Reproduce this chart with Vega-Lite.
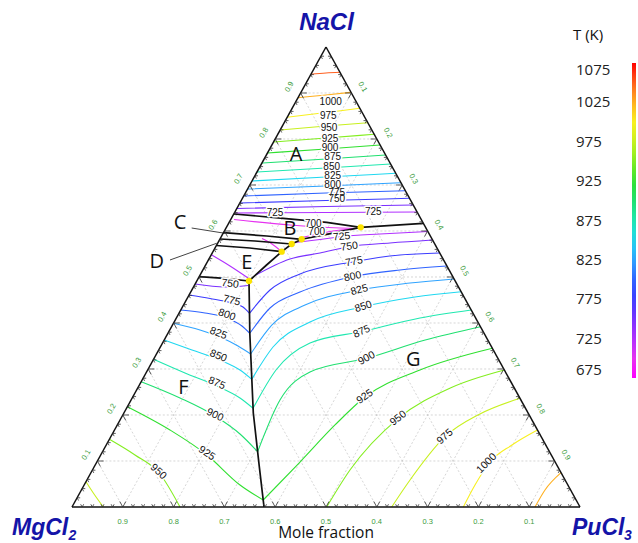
{
"$schema":"https://vega.github.io/schema/vega-lite/v6.json",
"width":638,"height":543,"autosize":"none","padding":0,"background":"white",
"config":{"view":{"stroke":null}},
"datasets":{
"tri":[{"id":"b","o":0,"x":0,"y":0},{"id":"b","o":1,"x":100,"y":0},{"id":"l","o":0,"x":0,"y":0},{"id":"l","o":1,"x":50,"y":100},{"id":"r","o":0,"x":50,"y":100},{"id":"r","o":1,"x":100,"y":0}],
"grid":[
{"id":"h10","o":0,"x":5,"y":10},{"id":"h10","o":1,"x":95,"y":10},
{"id":"h20","o":0,"x":10,"y":20},{"id":"h20","o":1,"x":90,"y":20},
{"id":"h30","o":0,"x":15,"y":30},{"id":"h30","o":1,"x":85,"y":30},
{"id":"h40","o":0,"x":20,"y":40},{"id":"h40","o":1,"x":80,"y":40},
{"id":"h50","o":0,"x":25,"y":50},{"id":"h50","o":1,"x":75,"y":50},
{"id":"h60","o":0,"x":30,"y":60},{"id":"h60","o":1,"x":70,"y":60},
{"id":"h70","o":0,"x":35,"y":70},{"id":"h70","o":1,"x":65,"y":70},
{"id":"h80","o":0,"x":40,"y":80},{"id":"h80","o":1,"x":60,"y":80},
{"id":"h90","o":0,"x":45,"y":90},{"id":"h90","o":1,"x":55,"y":90},
{"id":"p10","o":0,"x":10,"y":0},{"id":"p10","o":1,"x":5,"y":10},
{"id":"p20","o":0,"x":20,"y":0},{"id":"p20","o":1,"x":10,"y":20},
{"id":"p30","o":0,"x":30,"y":0},{"id":"p30","o":1,"x":15,"y":30},
{"id":"p40","o":0,"x":40,"y":0},{"id":"p40","o":1,"x":20,"y":40},
{"id":"p50","o":0,"x":50,"y":0},{"id":"p50","o":1,"x":25,"y":50},
{"id":"p60","o":0,"x":60,"y":0},{"id":"p60","o":1,"x":30,"y":60},
{"id":"p70","o":0,"x":70,"y":0},{"id":"p70","o":1,"x":35,"y":70},
{"id":"p80","o":0,"x":80,"y":0},{"id":"p80","o":1,"x":40,"y":80},
{"id":"p90","o":0,"x":90,"y":0},{"id":"p90","o":1,"x":45,"y":90},
{"id":"q10","o":0,"x":10,"y":0},{"id":"q10","o":1,"x":55,"y":90},
{"id":"q20","o":0,"x":20,"y":0},{"id":"q20","o":1,"x":60,"y":80},
{"id":"q30","o":0,"x":30,"y":0},{"id":"q30","o":1,"x":65,"y":70},
{"id":"q40","o":0,"x":40,"y":0},{"id":"q40","o":1,"x":70,"y":60},
{"id":"q50","o":0,"x":50,"y":0},{"id":"q50","o":1,"x":75,"y":50},
{"id":"q60","o":0,"x":60,"y":0},{"id":"q60","o":1,"x":80,"y":40},
{"id":"q70","o":0,"x":70,"y":0},{"id":"q70","o":1,"x":85,"y":30},
{"id":"q80","o":0,"x":80,"y":0},{"id":"q80","o":1,"x":90,"y":20},
{"id":"q90","o":0,"x":90,"y":0},{"id":"q90","o":1,"x":95,"y":10}],
"cont":[
{"id":"a1050","T":1050,"o":0,"x":47.03,"y":94.07},{"id":"a1050","T":1050,"o":1,"x":50,"y":94.35},{"id":"a1050","T":1050,"o":2,"x":52.75,"y":94.5},
{"id":"a1025","T":1025,"o":0,"x":44.49,"y":88.98},{"id":"a1025","T":1025,"o":1,"x":50,"y":89.57},{"id":"a1025","T":1025,"o":2,"x":54.93,"y":90.15},
{"id":"a1000","T":1000,"o":0,"x":42.36,"y":84.72},{"id":"a1000","T":1000,"o":1,"x":50,"y":85.76},{"id":"a1000","T":1000,"o":2,"x":56.67,"y":86.67},
{"id":"a975","T":975,"o":0,"x":40.98,"y":81.96},{"id":"a975","T":975,"o":1,"x":50,"y":82.83},{"id":"a975","T":975,"o":2,"x":58.23,"y":83.54},
{"id":"a950","T":950,"o":0,"x":39.67,"y":79.35},{"id":"a950","T":950,"o":1,"x":50,"y":80.22},{"id":"a950","T":950,"o":2,"x":59.49,"y":81.02},
{"id":"a925","T":925,"o":0,"x":38.48,"y":76.96},{"id":"a925","T":925,"o":1,"x":50,"y":77.83},{"id":"a925","T":925,"o":2,"x":60.65,"y":78.7},
{"id":"a900","T":900,"o":0,"x":37.39,"y":74.78},{"id":"a900","T":900,"o":1,"x":50,"y":75.65},{"id":"a900","T":900,"o":2,"x":61.74,"y":76.52},
{"id":"a875","T":875,"o":0,"x":36.41,"y":72.83},{"id":"a875","T":875,"o":1,"x":50,"y":73.7},{"id":"a875","T":875,"o":2,"x":62.72,"y":74.57},
{"id":"a850","T":850,"o":0,"x":35.43,"y":70.87},{"id":"a850","T":850,"o":1,"x":50,"y":71.74},{"id":"a850","T":850,"o":2,"x":63.73,"y":72.54},
{"id":"a825","T":825,"o":0,"x":34.57,"y":69.13},{"id":"a825","T":825,"o":1,"x":50,"y":69.78},{"id":"a825","T":825,"o":2,"x":64.75,"y":70.5},
{"id":"a800","T":800,"o":0,"x":33.8,"y":67.61},{"id":"a800","T":800,"o":1,"x":50,"y":68.26},{"id":"a800","T":800,"o":2,"x":65.62,"y":68.76},
{"id":"a775","T":775,"o":0,"x":33.04,"y":66.09},{"id":"a775","T":775,"o":1,"x":50,"y":66.63},{"id":"a775","T":775,"o":2,"x":66.45,"y":67.11},
{"id":"a750","T":750,"o":0,"x":32.45,"y":64.89},{"id":"a750","T":750,"o":1,"x":50,"y":65.33},{"id":"a750","T":750,"o":2,"x":67.17,"y":65.65},
{"id":"a725","T":725,"o":0,"x":31.96,"y":63.91},{"id":"a725","T":725,"o":1,"x":50,"y":64.02},{"id":"a725","T":725,"o":2,"x":67.93,"y":64.13},
{"id":"f750","T":750,"o":0,"x":24.24,"y":48.48},{"id":"f750","T":750,"o":1,"x":30.12,"y":47.83},{"id":"f750","T":750,"o":2,"x":34.65,"y":48.15},
{"id":"f775","T":775,"o":0,"x":23.04,"y":46.09},{"id":"f775","T":775,"o":1,"x":27.17,"y":45.33},{"id":"f775","T":775,"o":2,"x":31.5,"y":44.35},{"id":"f775","T":775,"o":3,"x":33.66,"y":43.48},{"id":"f775","T":775,"o":4,"x":34.94,"y":42.11},
{"id":"f800","T":800,"o":0,"x":21.41,"y":42.83},{"id":"f800","T":800,"o":1,"x":26.18,"y":42.17},{"id":"f800","T":800,"o":2,"x":30.51,"y":41.09},{"id":"f800","T":800,"o":3,"x":33.46,"y":39.35},{"id":"f800","T":800,"o":4,"x":35.0,"y":37.76},
{"id":"f825","T":825,"o":0,"x":19.97,"y":39.93},{"id":"f825","T":825,"o":1,"x":25.2,"y":38.48},{"id":"f825","T":825,"o":2,"x":29.13,"y":36.96},{"id":"f825","T":825,"o":3,"x":32.68,"y":35.0},{"id":"f825","T":825,"o":4,"x":35.18,"y":33.26},
{"id":"f850","T":850,"o":0,"x":18.15,"y":36.3},{"id":"f850","T":850,"o":1,"x":23.62,"y":34.13},{"id":"f850","T":850,"o":2,"x":29.13,"y":31.96},{"id":"f850","T":850,"o":3,"x":33.07,"y":29.78},{"id":"f850","T":850,"o":4,"x":35.4,"y":27.76},
{"id":"f875","T":875,"o":0,"x":16.05,"y":32.11},{"id":"f875","T":875,"o":1,"x":22.24,"y":29.13},{"id":"f875","T":875,"o":2,"x":28.54,"y":26.3},{"id":"f875","T":875,"o":3,"x":33.07,"y":23.7},{"id":"f875","T":875,"o":4,"x":35.65,"y":21.46},
{"id":"f900","T":900,"o":0,"x":13.62,"y":27.24},{"id":"f900","T":900,"o":1,"x":21.26,"y":23.7},{"id":"f900","T":900,"o":2,"x":28.15,"y":19.78},{"id":"f900","T":900,"o":3,"x":33.07,"y":15.87},{"id":"f900","T":900,"o":4,"x":36.54,"y":12.02},
{"id":"f925","T":925,"o":0,"x":10.9,"y":21.8},{"id":"f925","T":925,"o":1,"x":19.29,"y":16.74},{"id":"f925","T":925,"o":2,"x":26.57,"y":11.3},{"id":"f925","T":925,"o":3,"x":33.07,"y":4.78},{"id":"f925","T":925,"o":4,"x":37.64,"y":1.52},
{"id":"f950","T":950,"o":0,"x":7.36,"y":14.72},{"id":"f950","T":950,"o":1,"x":12.4,"y":11.3},{"id":"f950","T":950,"o":2,"x":17.32,"y":7.17},{"id":"f950","T":950,"o":3,"x":21.26,"y":0},
{"id":"f975","T":975,"o":0,"x":2.75,"y":5.5},{"id":"f975","T":975,"o":1,"x":4.33,"y":2.83},{"id":"f975","T":975,"o":2,"x":6.16,"y":0},
{"id":"g725","T":725,"o":0,"x":43.9,"y":57.5},{"id":"g725","T":725,"o":1,"x":48.82,"y":58.15},{"id":"g725","T":725,"o":2,"x":53.15,"y":58.8},{"id":"g725","T":725,"o":3,"x":60.63,"y":59.35},{"id":"g725","T":725,"o":4,"x":70.05,"y":59.89},
{"id":"g750","T":750,"o":0,"x":36.0,"y":50.3},{"id":"g750","T":750,"o":1,"x":42.91,"y":53.91},{"id":"g750","T":750,"o":2,"x":48.82,"y":55.22},{"id":"g750","T":750,"o":3,"x":54.59,"y":56.59},{"id":"g750","T":750,"o":4,"x":62.6,"y":57.39},{"id":"g750","T":750,"o":5,"x":70.98,"y":58.04},
{"id":"g775","T":775,"o":0,"x":34.94,"y":42.11},{"id":"g775","T":775,"o":1,"x":38.98,"y":47.17},{"id":"g775","T":775,"o":2,"x":44.88,"y":50.65},{"id":"g775","T":775,"o":3,"x":55.51,"y":53.33},{"id":"g775","T":775,"o":4,"x":64.57,"y":54.78},{"id":"g775","T":775,"o":5,"x":72.39,"y":55.22},
{"id":"g800","T":800,"o":0,"x":35.0,"y":37.76},{"id":"g800","T":800,"o":1,"x":38.98,"y":43.26},{"id":"g800","T":800,"o":2,"x":44.88,"y":46.74},{"id":"g800","T":800,"o":3,"x":55.26,"y":50.07},{"id":"g800","T":800,"o":4,"x":64.57,"y":51.52},{"id":"g800","T":800,"o":5,"x":73.8,"y":52.39},
{"id":"g825","T":825,"o":0,"x":35.18,"y":33.26},{"id":"g825","T":825,"o":1,"x":39.37,"y":39.57},{"id":"g825","T":825,"o":2,"x":45.87,"y":43.91},{"id":"g825","T":825,"o":3,"x":56.56,"y":47.17},{"id":"g825","T":825,"o":4,"x":66.54,"y":48.7},{"id":"g825","T":825,"o":5,"x":75.22,"y":49.57},
{"id":"g850","T":850,"o":0,"x":35.4,"y":27.76},{"id":"g850","T":850,"o":1,"x":39.57,"y":34.78},{"id":"g850","T":850,"o":2,"x":46.85,"y":40.22},{"id":"g850","T":850,"o":3,"x":57.34,"y":43.54},{"id":"g850","T":850,"o":4,"x":67.52,"y":45.65},{"id":"g850","T":850,"o":5,"x":76.6,"y":46.8},
{"id":"g875","T":875,"o":0,"x":35.65,"y":21.46},{"id":"g875","T":875,"o":1,"x":40.16,"y":29.78},{"id":"g875","T":875,"o":2,"x":46.85,"y":35.65},{"id":"g875","T":875,"o":3,"x":57.09,"y":38.15},{"id":"g875","T":875,"o":4,"x":68.5,"y":41.09},{"id":"g875","T":875,"o":5,"x":78.59,"y":42.83},
{"id":"g900","T":900,"o":0,"x":36.54,"y":12.02},{"id":"g900","T":900,"o":1,"x":40.94,"y":23.26},{"id":"g900","T":900,"o":2,"x":46.85,"y":29.35},{"id":"g900","T":900,"o":3,"x":58.01,"y":32.33},{"id":"g900","T":900,"o":4,"x":69.53,"y":36.3},{"id":"g900","T":900,"o":5,"x":80.4,"y":39.2},
{"id":"g925","T":925,"o":0,"x":37.64,"y":1.52},{"id":"g925","T":925,"o":1,"x":44.88,"y":9.78},{"id":"g925","T":925,"o":2,"x":51.77,"y":17.83},{"id":"g925","T":925,"o":3,"x":57.68,"y":23.91},{"id":"g925","T":925,"o":4,"x":68.5,"y":29.78},{"id":"g925","T":925,"o":5,"x":82.75,"y":34.5},
{"id":"g950","T":950,"o":0,"x":50.14,"y":0},{"id":"g950","T":950,"o":1,"x":54.72,"y":8.04},{"id":"g950","T":950,"o":2,"x":64.23,"y":19.28},{"id":"g950","T":950,"o":3,"x":74.47,"y":25.87},{"id":"g950","T":950,"o":4,"x":85.11,"y":29.78},
{"id":"g975","T":975,"o":0,"x":62.93,"y":0},{"id":"g975","T":975,"o":1,"x":66.54,"y":5.87},{"id":"g975","T":975,"o":2,"x":73.43,"y":15.28},{"id":"g975","T":975,"o":3,"x":80.31,"y":20.22},{"id":"g975","T":975,"o":4,"x":88.18,"y":23.63},
{"id":"g1000","T":1000,"o":0,"x":77.03,"y":0},{"id":"g1000","T":1000,"o":1,"x":79.33,"y":4.78},{"id":"g1000","T":1000,"o":2,"x":82.28,"y":9.78},{"id":"g1000","T":1000,"o":3,"x":86.61,"y":13.48},{"id":"g1000","T":1000,"o":4,"x":91.63,"y":16.74},
{"id":"g1025","T":1025,"o":0,"x":91.14,"y":0},{"id":"g1025","T":1025,"o":1,"x":93.11,"y":3.7},{"id":"g1025","T":1025,"o":2,"x":96.27,"y":7.46},
{"id":"pB1","T":700,"o":0,"x":31.9,"y":62.5},{"id":"pB1","T":700,"o":1,"x":42.91,"y":61.3},{"id":"pB1","T":700,"o":2,"x":52.76,"y":60.65},{"id":"pB1","T":700,"o":3,"x":55.91,"y":60.54},
{"id":"pB2","T":700,"o":0,"x":45.28,"y":58.59},{"id":"pB2","T":700,"o":1,"x":50.79,"y":59.89},{"id":"pB2","T":700,"o":2,"x":55.71,"y":60.54},
{"id":"pCD","T":700,"o":0,"x":37.4,"y":58.37},{"id":"pCD","T":700,"o":1,"x":39.37,"y":57.17},{"id":"pCD","T":700,"o":2,"x":41.14,"y":55.65},
{"id":"pE","T":725,"o":0,"x":27.5,"y":54.78},{"id":"pE","T":725,"o":1,"x":31.1,"y":52.39},{"id":"pE","T":725,"o":2,"x":34.65,"y":49.78}],
"blk":[
{"id":"K1","o":0,"x":31.85,"y":63.7},{"id":"K1","o":1,"x":41.59,"y":62.76},{"id":"K1","o":2,"x":50.13,"y":61.89},{"id":"K1","o":3,"x":56.83,"y":60.8},
{"id":"K2","o":0,"x":56.83,"y":60.8},{"id":"K2","o":1,"x":69.16,"y":61.67},
{"id":"K3","o":0,"x":34.84,"y":49.13},{"id":"K3","o":1,"x":38.19,"y":52.5},{"id":"K3","o":2,"x":41.28,"y":55.5},{"id":"K3","o":3,"x":43.25,"y":57.17},{"id":"K3","o":4,"x":45.22,"y":58.2},{"id":"K3","o":5,"x":50.14,"y":59.28},{"id":"K3","o":6,"x":56.83,"y":60.8},
{"id":"K4","o":0,"x":29.81,"y":59.63},{"id":"K4","o":1,"x":38.33,"y":58.91},{"id":"K4","o":2,"x":45.22,"y":58.2},
{"id":"K5","o":0,"x":29.13,"y":58.26},{"id":"K5","o":1,"x":36.02,"y":57.83},{"id":"K5","o":2,"x":43.25,"y":57.17},
{"id":"K6","o":0,"x":28.42,"y":56.85},{"id":"K6","o":1,"x":35.0,"y":56.3},{"id":"K6","o":2,"x":41.28,"y":55.5},
{"id":"K7","o":0,"x":25.03,"y":50.07},{"id":"K7","o":1,"x":30.0,"y":49.7},{"id":"K7","o":2,"x":34.84,"y":49.13},
{"id":"K8","o":0,"x":34.84,"y":49.13},{"id":"K8","o":1,"x":35.0,"y":37.76},{"id":"K8","o":2,"x":35.69,"y":20.43},{"id":"K8","o":3,"x":36.87,"y":8.76},{"id":"K8","o":4,"x":37.8,"y":0}],
"call":[{"id":"C","o":0,"x":23.56,"y":60.65},{"id":"C","o":1,"x":30.12,"y":59.5},{"id":"D","o":0,"x":19.29,"y":53.7},{"id":"D","o":1,"x":28.48,"y":57.33}],
"dots":[{"x":56.83,"y":60.8},{"x":45.22,"y":58.2},{"x":43.25,"y":57.17},{"x":41.28,"y":55.5},{"x":34.84,"y":49.13}],
"tk":[
{"e":"b","x":2,"y":0,"m":0},{"e":"b","x":4,"y":0,"m":0},{"e":"b","x":6,"y":0,"m":0},{"e":"b","x":8,"y":0,"m":0},{"e":"b","x":10,"y":0,"m":1},
{"e":"b","x":12,"y":0,"m":0},{"e":"b","x":14,"y":0,"m":0},{"e":"b","x":16,"y":0,"m":0},{"e":"b","x":18,"y":0,"m":0},{"e":"b","x":20,"y":0,"m":1},
{"e":"b","x":22,"y":0,"m":0},{"e":"b","x":24,"y":0,"m":0},{"e":"b","x":26,"y":0,"m":0},{"e":"b","x":28,"y":0,"m":0},{"e":"b","x":30,"y":0,"m":1},
{"e":"b","x":32,"y":0,"m":0},{"e":"b","x":34,"y":0,"m":0},{"e":"b","x":36,"y":0,"m":0},{"e":"b","x":38,"y":0,"m":0},{"e":"b","x":40,"y":0,"m":1},
{"e":"b","x":42,"y":0,"m":0},{"e":"b","x":44,"y":0,"m":0},{"e":"b","x":46,"y":0,"m":0},{"e":"b","x":48,"y":0,"m":0},{"e":"b","x":50,"y":0,"m":1},
{"e":"b","x":52,"y":0,"m":0},{"e":"b","x":54,"y":0,"m":0},{"e":"b","x":56,"y":0,"m":0},{"e":"b","x":58,"y":0,"m":0},{"e":"b","x":60,"y":0,"m":1},
{"e":"b","x":62,"y":0,"m":0},{"e":"b","x":64,"y":0,"m":0},{"e":"b","x":66,"y":0,"m":0},{"e":"b","x":68,"y":0,"m":0},{"e":"b","x":70,"y":0,"m":1},
{"e":"b","x":72,"y":0,"m":0},{"e":"b","x":74,"y":0,"m":0},{"e":"b","x":76,"y":0,"m":0},{"e":"b","x":78,"y":0,"m":0},{"e":"b","x":80,"y":0,"m":1},
{"e":"b","x":82,"y":0,"m":0},{"e":"b","x":84,"y":0,"m":0},{"e":"b","x":86,"y":0,"m":0},{"e":"b","x":88,"y":0,"m":0},{"e":"b","x":90,"y":0,"m":1},
{"e":"b","x":92,"y":0,"m":0},{"e":"b","x":94,"y":0,"m":0},{"e":"b","x":96,"y":0,"m":0},{"e":"b","x":98,"y":0,"m":0},
{"e":"l","x":1,"y":2,"m":0},{"e":"l","x":2,"y":4,"m":0},{"e":"l","x":3,"y":6,"m":0},{"e":"l","x":4,"y":8,"m":0},{"e":"l","x":5,"y":10,"m":1},
{"e":"l","x":6,"y":12,"m":0},{"e":"l","x":7,"y":14,"m":0},{"e":"l","x":8,"y":16,"m":0},{"e":"l","x":9,"y":18,"m":0},{"e":"l","x":10,"y":20,"m":1},
{"e":"l","x":11,"y":22,"m":0},{"e":"l","x":12,"y":24,"m":0},{"e":"l","x":13,"y":26,"m":0},{"e":"l","x":14,"y":28,"m":0},{"e":"l","x":15,"y":30,"m":1},
{"e":"l","x":16,"y":32,"m":0},{"e":"l","x":17,"y":34,"m":0},{"e":"l","x":18,"y":36,"m":0},{"e":"l","x":19,"y":38,"m":0},{"e":"l","x":20,"y":40,"m":1},
{"e":"l","x":21,"y":42,"m":0},{"e":"l","x":22,"y":44,"m":0},{"e":"l","x":23,"y":46,"m":0},{"e":"l","x":24,"y":48,"m":0},{"e":"l","x":25,"y":50,"m":1},
{"e":"l","x":26,"y":52,"m":0},{"e":"l","x":27,"y":54,"m":0},{"e":"l","x":28,"y":56,"m":0},{"e":"l","x":29,"y":58,"m":0},{"e":"l","x":30,"y":60,"m":1},
{"e":"l","x":31,"y":62,"m":0},{"e":"l","x":32,"y":64,"m":0},{"e":"l","x":33,"y":66,"m":0},{"e":"l","x":34,"y":68,"m":0},{"e":"l","x":35,"y":70,"m":1},
{"e":"l","x":36,"y":72,"m":0},{"e":"l","x":37,"y":74,"m":0},{"e":"l","x":38,"y":76,"m":0},{"e":"l","x":39,"y":78,"m":0},{"e":"l","x":40,"y":80,"m":1},
{"e":"l","x":41,"y":82,"m":0},{"e":"l","x":42,"y":84,"m":0},{"e":"l","x":43,"y":86,"m":0},{"e":"l","x":44,"y":88,"m":0},{"e":"l","x":45,"y":90,"m":1},
{"e":"l","x":46,"y":92,"m":0},{"e":"l","x":47,"y":94,"m":0},{"e":"l","x":48,"y":96,"m":0},{"e":"l","x":49,"y":98,"m":0},
{"e":"r","x":99,"y":2,"m":0},{"e":"r","x":98,"y":4,"m":0},{"e":"r","x":97,"y":6,"m":0},{"e":"r","x":96,"y":8,"m":0},{"e":"r","x":95,"y":10,"m":1},
{"e":"r","x":94,"y":12,"m":0},{"e":"r","x":93,"y":14,"m":0},{"e":"r","x":92,"y":16,"m":0},{"e":"r","x":91,"y":18,"m":0},{"e":"r","x":90,"y":20,"m":1},
{"e":"r","x":89,"y":22,"m":0},{"e":"r","x":88,"y":24,"m":0},{"e":"r","x":87,"y":26,"m":0},{"e":"r","x":86,"y":28,"m":0},{"e":"r","x":85,"y":30,"m":1},
{"e":"r","x":84,"y":32,"m":0},{"e":"r","x":83,"y":34,"m":0},{"e":"r","x":82,"y":36,"m":0},{"e":"r","x":81,"y":38,"m":0},{"e":"r","x":80,"y":40,"m":1},
{"e":"r","x":79,"y":42,"m":0},{"e":"r","x":78,"y":44,"m":0},{"e":"r","x":77,"y":46,"m":0},{"e":"r","x":76,"y":48,"m":0},{"e":"r","x":75,"y":50,"m":1},
{"e":"r","x":74,"y":52,"m":0},{"e":"r","x":73,"y":54,"m":0},{"e":"r","x":72,"y":56,"m":0},{"e":"r","x":71,"y":58,"m":0},{"e":"r","x":70,"y":60,"m":1},
{"e":"r","x":69,"y":62,"m":0},{"e":"r","x":68,"y":64,"m":0},{"e":"r","x":67,"y":66,"m":0},{"e":"r","x":66,"y":68,"m":0},{"e":"r","x":65,"y":70,"m":1},
{"e":"r","x":64,"y":72,"m":0},{"e":"r","x":63,"y":74,"m":0},{"e":"r","x":62,"y":76,"m":0},{"e":"r","x":61,"y":78,"m":0},{"e":"r","x":60,"y":80,"m":1},
{"e":"r","x":59,"y":82,"m":0},{"e":"r","x":58,"y":84,"m":0},{"e":"r","x":57,"y":86,"m":0},{"e":"r","x":56,"y":88,"m":0},{"e":"r","x":55,"y":90,"m":1},
{"e":"r","x":54,"y":92,"m":0},{"e":"r","x":53,"y":94,"m":0},{"e":"r","x":52,"y":96,"m":0},{"e":"r","x":51,"y":98,"m":0}],
"tl":[
{"e":"l","lab":"0.1","x":2.83,"y":11.3},{"e":"l","lab":"0.2","x":7.83,"y":21.3},{"e":"l","lab":"0.3","x":12.83,"y":31.3},{"e":"l","lab":"0.4","x":17.83,"y":41.3},{"e":"l","lab":"0.5","x":22.83,"y":51.3},{"e":"l","lab":"0.6","x":27.83,"y":61.3},{"e":"l","lab":"0.7","x":32.83,"y":71.3},{"e":"l","lab":"0.8","x":37.83,"y":81.3},{"e":"l","lab":"0.9","x":42.83,"y":91.3},
{"e":"r","lab":"0.1","x":57.17,"y":91.3},{"e":"r","lab":"0.2","x":62.17,"y":81.3},{"e":"r","lab":"0.3","x":67.17,"y":71.3},{"e":"r","lab":"0.4","x":72.17,"y":61.3},{"e":"r","lab":"0.5","x":77.17,"y":51.3},{"e":"r","lab":"0.6","x":82.17,"y":41.3},{"e":"r","lab":"0.7","x":87.17,"y":31.3},{"e":"r","lab":"0.8","x":92.17,"y":21.3},{"e":"r","lab":"0.9","x":97.17,"y":11.3},
{"e":"b","lab":"0.9","x":10,"y":-3.3},{"e":"b","lab":"0.8","x":20,"y":-3.3},{"e":"b","lab":"0.7","x":30,"y":-3.3},{"e":"b","lab":"0.6","x":40,"y":-3.3},{"e":"b","lab":"0.5","x":50,"y":-3.3},{"e":"b","lab":"0.4","x":60,"y":-3.3},{"e":"b","lab":"0.3","x":70,"y":-3.3},{"e":"b","lab":"0.2","x":80,"y":-3.3},{"e":"b","lab":"0.1","x":90,"y":-3.3}],
"clab":[
{"reg":"A","T":1000,"x":50.93,"y":88.11},{"reg":"A","T":975,"x":50.45,"y":85.0},{"reg":"A","T":950,"x":50.59,"y":82.46},{"reg":"A","T":925,"x":50.79,"y":79.93},{"reg":"A","T":900,"x":50.79,"y":77.98},{"reg":"A","T":875,"x":51.32,"y":76.02},{"reg":"A","T":850,"x":51.12,"y":73.98},{"reg":"A","T":825,"x":51.32,"y":71.96},{"reg":"A","T":800,"x":51.32,"y":70.0},{"reg":"A","T":775,"x":52.11,"y":68.33},{"reg":"A","T":750,"x":52.11,"y":66.89},{"reg":"A","T":725,"x":39.96,"y":63.85},{"reg":"A","T":725,"x":59.31,"y":64.07},
{"reg":"B","T":700,"x":47.5,"y":61.46},{"reg":"B","T":700,"x":48.17,"y":59.85},
{"reg":"F","T":750,"x":31.1,"y":48.48},{"reg":"F","T":775,"x":31.44,"y":44.85},{"reg":"F","T":800,"x":30.45,"y":41.74},{"reg":"F","T":825,"x":28.8,"y":37.76},{"reg":"F","T":850,"x":28.8,"y":32.83},{"reg":"F","T":875,"x":28.48,"y":26.89},{"reg":"F","T":900,"x":28.15,"y":20.0},{"reg":"F","T":925,"x":26.52,"y":11.67},{"reg":"F","T":950,"x":16.99,"y":7.67},
{"reg":"G","T":725,"x":53.09,"y":58.76},{"reg":"G","T":750,"x":54.59,"y":56.59},{"reg":"G","T":775,"x":55.51,"y":53.33},{"reg":"G","T":800,"x":55.26,"y":50.07},{"reg":"G","T":825,"x":56.56,"y":47.17},{"reg":"G","T":850,"x":57.34,"y":43.54},{"reg":"G","T":875,"x":57.03,"y":38.11},{"reg":"G","T":900,"x":58.01,"y":32.33},{"reg":"G","T":925,"x":57.68,"y":23.98},{"reg":"G","T":950,"x":64.23,"y":19.28},{"reg":"G","T":975,"x":73.43,"y":15.28},{"reg":"G","T":1000,"x":81.63,"y":9.5}],
"regs":[{"t":"A","x":44.09,"y":76.52},{"t":"B","x":42.91,"y":60.37},{"t":"C","x":21.26,"y":61.67},{"t":"D","x":16.67,"y":53.33},{"t":"E","x":34.39,"y":52.98},{"t":"F","x":21.91,"y":25.8},{"t":"G","x":67.19,"y":31.96}],
"big":[{"t":"NaCl","k":"c","x":50.1,"y":103.7},{"t":"MgCl","k":"l","x":-11.81,"y":-6.09},{"t":"PuCl","k":"l","x":98.43,"y":-6.09}],
"sub":[{"t":"2","x":-0.69,"y":-7.17},{"t":"3","x":108.66,"y":-7.17}],
"misc":[{"t":"Mole fraction","k":"c","x":50,"y":-6.74},{"t":"T (K)","k":"l","x":98.62,"y":101.52}]
},
"encoding":{
"x":{"field":"x","type":"quantitative","scale":{"domain":[-14.173,111.417],"nice":false,"zero":false},"axis":null},
"y":{"field":"y","type":"quantitative","scale":{"domain":[-7.826,110.217],"nice":false,"zero":false},"axis":null}
},
"layer":[
{"data":{"name":"grid"},"mark":{"type":"line","stroke":"#c4c4c4","strokeWidth":0.7,"strokeDash":[2,2]},"encoding":{"detail":{"field":"id"},"order":{"field":"o"}}},
{"data":{"name":"cont"},"mark":{"type":"line","strokeWidth":1.1,"interpolate":"monotone"},"encoding":{"detail":{"field":"id"},"order":{"field":"o"},
 "color":{"field":"T","type":"quantitative","scale":{"type":"linear","domain":[675,700,725,750,775,800,825,850,875,900,925,950,975,1000,1025,1050,1075],"range":["#ff00ff","#e632f0","#b030ff","#7a30ff","#3c3cff","#3064ff","#30a4ff","#20d8f0","#20e8b0","#20e070","#30e030","#84ee20","#c8f020","#f8f020","#ffb020","#ff6020","#ff0000"],"interpolate":"rgb"},
 "legend":{"orient":"none","legendX":632,"legendY":63,"direction":"vertical","gradientLength":315,"gradientThickness":4,"title":null,"values":[675,725,775,825,875,925,975,1025,1075],"format":"d","labelOffset":-60,"labelAlign":"left","labelBaseline":"middle","labelFont":"Open Sans","labelFontSize":15,"labelColor":"#222","gradientStrokeWidth":0,"labelOverlap":false}}}},
{"data":{"name":"blk"},"mark":{"type":"line","stroke":"#111","strokeWidth":1.7},"encoding":{"detail":{"field":"id"},"order":{"field":"o"}}},
{"data":{"name":"call"},"mark":{"type":"line","stroke":"#444","strokeWidth":1},"encoding":{"detail":{"field":"id"},"order":{"field":"o"}}},
{"data":{"name":"tri"},"mark":{"type":"line","stroke":"#111","strokeWidth":1.5},"encoding":{"detail":{"field":"id"},"order":{"field":"o"}}},
{"data":{"name":"tk"},"transform":[{"filter":"datum.e=='b'"}],"mark":{"type":"point","shape":"M-0.55,-1L0,0L0.55,-1","filled":false,"stroke":"#333","strokeWidth":0.8,"opacity":1},"encoding":{"size":{"field":"m","type":"quantitative","scale":{"domain":[0,1],"range":[30,120]},"legend":null}}},
{"data":{"name":"tk"},"transform":[{"filter":"datum.e=='l'"}],"mark":{"type":"point","shape":"M1.14,0L0,0L0.55,1","filled":false,"stroke":"#333","strokeWidth":0.8,"opacity":1},"encoding":{"size":{"field":"m","type":"quantitative","scale":{"domain":[0,1],"range":[30,120]},"legend":null}}},
{"data":{"name":"tk"},"transform":[{"filter":"datum.e=='r'"}],"mark":{"type":"point","shape":"M-1.14,0L0,0L-0.55,1","filled":false,"stroke":"#333","strokeWidth":0.8,"opacity":1},"encoding":{"size":{"field":"m","type":"quantitative","scale":{"domain":[0,1],"range":[30,120]},"legend":null}}},
{"data":{"name":"tl"},"transform":[{"filter":"datum.e=='b'"}],"mark":{"type":"text","font":"Liberation Sans","fontSize":7.5,"color":"#3c9c3c","align":"center","baseline":"middle"},"encoding":{"text":{"field":"lab"}}},
{"data":{"name":"tl"},"transform":[{"filter":"datum.e=='l'"}],"mark":{"type":"text","font":"Liberation Sans","fontSize":7.5,"color":"#3c9c3c","align":"center","baseline":"middle","angle":300},"encoding":{"text":{"field":"lab"}}},
{"data":{"name":"tl"},"transform":[{"filter":"datum.e=='r'"}],"mark":{"type":"text","font":"Liberation Sans","fontSize":7.5,"color":"#3c9c3c","align":"center","baseline":"middle","angle":60},"encoding":{"text":{"field":"lab"}}},
{"data":{"name":"dots"},"mark":{"type":"circle","color":"#fce300","size":40,"opacity":1}},
{"data":{"name":"clab"},"transform":[{"filter":"datum.reg=='A'||datum.reg=='B'"}],"mark":{"type":"text","font":"Liberation Sans","fontSize":10,"color":"white","stroke":"white","strokeWidth":3,"strokeJoin":"round","baseline":"middle"},"encoding":{"text":{"field":"T","type":"quantitative","format":"d"}}},
{"data":{"name":"clab"},"transform":[{"filter":"datum.reg=='A'||datum.reg=='B'"}],"mark":{"type":"text","font":"Liberation Sans","fontSize":10,"color":"#111","baseline":"middle"},"encoding":{"text":{"field":"T","type":"quantitative","format":"d"}}},
{"data":{"name":"clab"},"transform":[{"filter":"datum.reg=='F'"}],"mark":{"type":"text","font":"Liberation Sans","fontSize":10.5,"color":"white","stroke":"white","strokeWidth":3,"strokeJoin":"round","baseline":"middle"},"encoding":{"text":{"field":"T","type":"quantitative","format":"d"},"angle":{"field":"T","type":"quantitative","scale":{"domain":[750,800,900,950],"range":[8,20,25,42]}}}},
{"data":{"name":"clab"},"transform":[{"filter":"datum.reg=='F'"}],"mark":{"type":"text","font":"Liberation Sans","fontSize":10.5,"color":"#111","baseline":"middle"},"encoding":{"text":{"field":"T","type":"quantitative","format":"d"},"angle":{"field":"T","type":"quantitative","scale":{"domain":[750,800,900,950],"range":[8,20,25,42]}}}},
{"data":{"name":"clab"},"transform":[{"filter":"datum.reg=='G'"}],"mark":{"type":"text","font":"Liberation Sans","fontSize":10.5,"color":"white","stroke":"white","strokeWidth":3,"strokeJoin":"round","baseline":"middle"},"encoding":{"text":{"field":"T","type":"quantitative","format":"d"},"angle":{"field":"T","type":"quantitative","scale":{"domain":[725,850,925,1000],"range":[-5,-18,-35,-45]}}}},
{"data":{"name":"clab"},"transform":[{"filter":"datum.reg=='G'"}],"mark":{"type":"text","font":"Liberation Sans","fontSize":10.5,"color":"#111","baseline":"middle"},"encoding":{"text":{"field":"T","type":"quantitative","format":"d"},"angle":{"field":"T","type":"quantitative","scale":{"domain":[725,850,925,1000],"range":[-5,-18,-35,-45]}}}},
{"data":{"name":"regs"},"mark":{"type":"text","font":"Open Sans","fontSize":20,"color":"#111","baseline":"middle","align":"center"},"encoding":{"text":{"field":"t"}}},
{"data":{"name":"big"},"transform":[{"filter":"datum.k=='c'"}],"mark":{"type":"text","font":"Liberation Sans","fontSize":24,"fontStyle":"italic","fontWeight":"bold","color":"#1414a8","align":"center","baseline":"alphabetic"},"encoding":{"text":{"field":"t"}}},
{"data":{"name":"big"},"transform":[{"filter":"datum.k=='l'"}],"mark":{"type":"text","font":"Liberation Sans","fontSize":23,"fontStyle":"italic","fontWeight":"bold","color":"#1414a8","align":"left","baseline":"alphabetic"},"encoding":{"text":{"field":"t"}}},
{"data":{"name":"sub"},"mark":{"type":"text","font":"Liberation Sans","fontSize":14,"fontStyle":"italic","fontWeight":"bold","color":"#1414a8","align":"left","baseline":"alphabetic"},"encoding":{"text":{"field":"t"}}},
{"data":{"name":"misc"},"transform":[{"filter":"datum.k=='c'"}],"mark":{"type":"text","font":"Open Sans","fontSize":15.5,"color":"#111","align":"center","baseline":"alphabetic"},"encoding":{"text":{"field":"t"}}},
{"data":{"name":"misc"},"transform":[{"filter":"datum.k=='l'"}],"mark":{"type":"text","font":"Open Sans","fontSize":15,"color":"#111","align":"left","baseline":"alphabetic"},"encoding":{"text":{"field":"t"}}}
],
"resolve":{"scale":{"angle":"independent"}}
}
